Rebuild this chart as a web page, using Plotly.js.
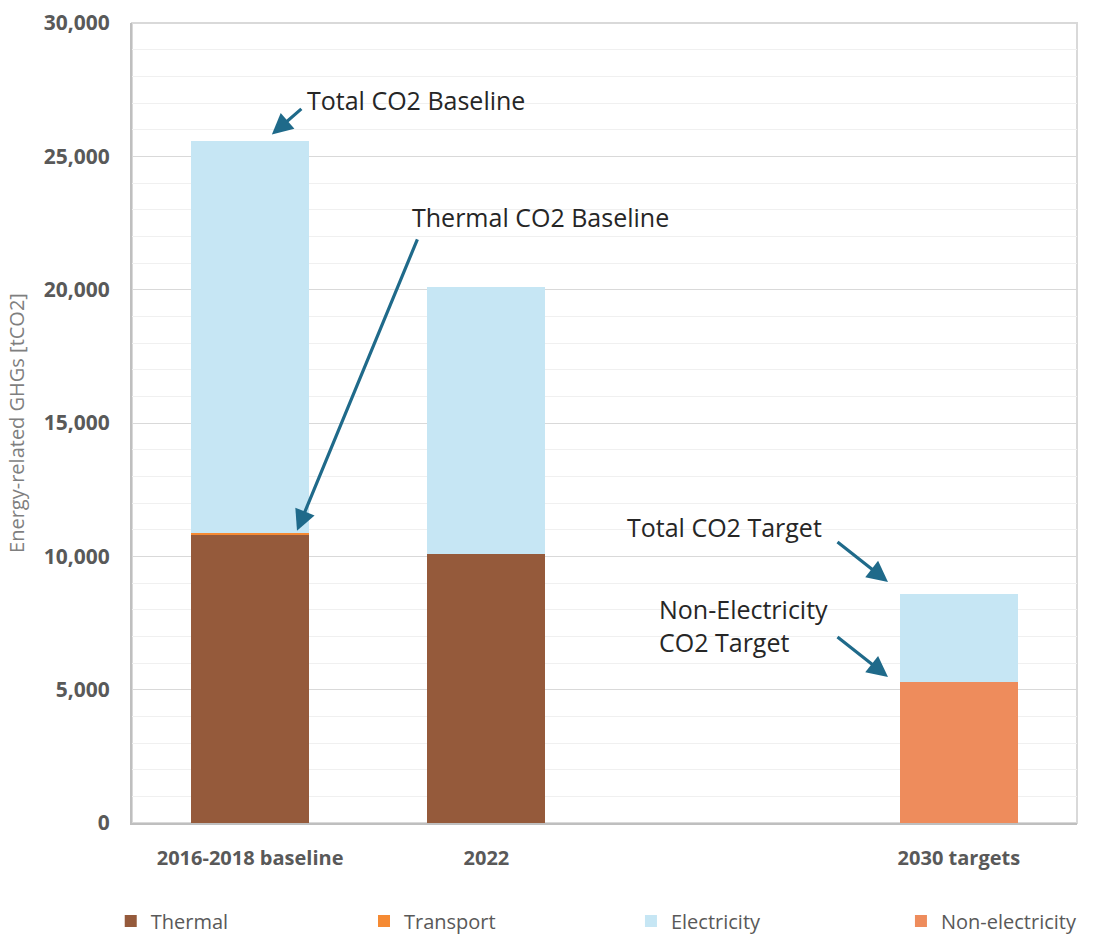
<!DOCTYPE html>
<html>
<head>
<meta charset="utf-8">
<script src="https://cdn.plot.ly/plotly-3.0.1.min.js"></script>
<style>html,body{margin:0;padding:0;background:#fff;}#chart{width:1094px;height:934px;}</style>
</head>
<body>
<div id="chart"></div>
<script>
// Data
const categories = ["2016-2018 baseline", "2022", " ", "2030 targets"];
const thermal = [10800, 10090, null, null];
const transport = [90, null, null, null];
const electricity = [14670, 10010, null, 3290];
const nonElectricity = [null, null, null, 5300];

const FONT = "Open Sans, Liberation Sans, Arial, sans-serif";

const traces = [
  {type: "bar", name: "Thermal", x: categories, y: thermal, marker: {color: "#955A3B"}, legend: "legend"},
  {type: "bar", name: "Transport", x: categories, y: transport, marker: {color: "#F58A33"}, legend: "legend2"},
  {type: "bar", name: "Non-electricity", x: categories, y: nonElectricity, marker: {color: "#EE8C5C"}, legend: "legend4"},
  {type: "bar", name: "Electricity", x: categories, y: electricity, marker: {color: "#C6E6F4"}, legend: "legend3"}
];

const arrowColor = "#1F6A8A";
function arrow(x, y, ax, ay) {
  return {xref: "paper", yref: "paper", x: x, y: y, ax: ax, ay: ay, text: "",
    showarrow: true, arrowhead: 2, arrowsize: 1.3, arrowwidth: 3.2, arrowcolor: arrowColor};
}
function label(x, y, text) {
  return {xref: "paper", yref: "paper", x: x, y: y, xanchor: "left", yanchor: "middle",
    text: text, showarrow: false, align: "left",
    font: {family: FONT, size: 25, color: "#262626"}};
}

const legendFont = {family: FONT, size: 20, color: "#595959"};
function legendAt(x) {
  return {orientation: "h", x: x, xanchor: "left",
    yref: "container", y: 0.014, yanchor: "middle",
    itemwidth: 30, font: legendFont};
}

const layout = {
  width: 1094, height: 934,
  margin: {l: 132, r: 17, t: 23, b: 111},
  paper_bgcolor: "#fff", plot_bgcolor: "#fff",
  barmode: "stack", bargap: 0.5,
  showlegend: true,
  hovermode: false,
  font: {family: FONT, color: "#595959"},
  xaxis: {
    type: "category", categoryorder: "array", categoryarray: categories,
    showline: true, linecolor: "#BFBFBF", linewidth: 2,
    ticks: "", showgrid: false,
    ticklabelstandoff: 16,
    tickfont: {family: FONT, size: 20, color: "#595959", weight: "bold"}
  },
  yaxis: {
    range: [0, 30000], dtick: 5000, tickformat: ",d",
    showline: true, linecolor: "#BFBFBF", linewidth: 2,
    ticks: "", gridcolor: "#D9D9D9", gridwidth: 1,
    zeroline: false,
    minor: {dtick: 1000, showgrid: true, gridcolor: "#F0F0F0", gridwidth: 1, ticks: ""},
    ticklabelstandoff: 16,
    tickfont: {family: FONT, size: 21, color: "#595959", weight: "bold"},
    title: {text: "Energy-related GHGs [tCO2]", standoff: 14,
      font: {family: FONT, size: 20, color: "#7F7F7F"}}
  },
  legend: legendAt(-0.0225),
  legend2: legendAt(0.2455),
  legend3: legendAt(0.528),
  legend4: legendAt(0.8137),
  shapes: [
    {type: "rect", xref: "paper", yref: "paper", x0: 0, x1: 1, y0: 0, y1: 1,
     line: {color: "#D9D9D9", width: 2}, layer: "below"}
  ],
  annotations: [
    label(0.183, 0.904, "Total CO2 Baseline"),
    arrow(0.148, 0.8605, 31, -27),
    label(0.294, 0.758, "Thermal CO2 Baseline"),
    arrow(0.1746, 0.3652, 121, -293),
    label(0.5217, 0.370, "Total CO2 Target"),
    arrow(0.8, 0.3014, -52, -41),
    label(0.5556, 0.2464, "Non-Electricity<br>CO2 Target"),
    arrow(0.8, 0.1826, -52, -41)
  ]
};

Plotly.newPlot("chart", traces, layout, {displayModeBar: false, staticPlot: true});
</script>
</body>
</html>
